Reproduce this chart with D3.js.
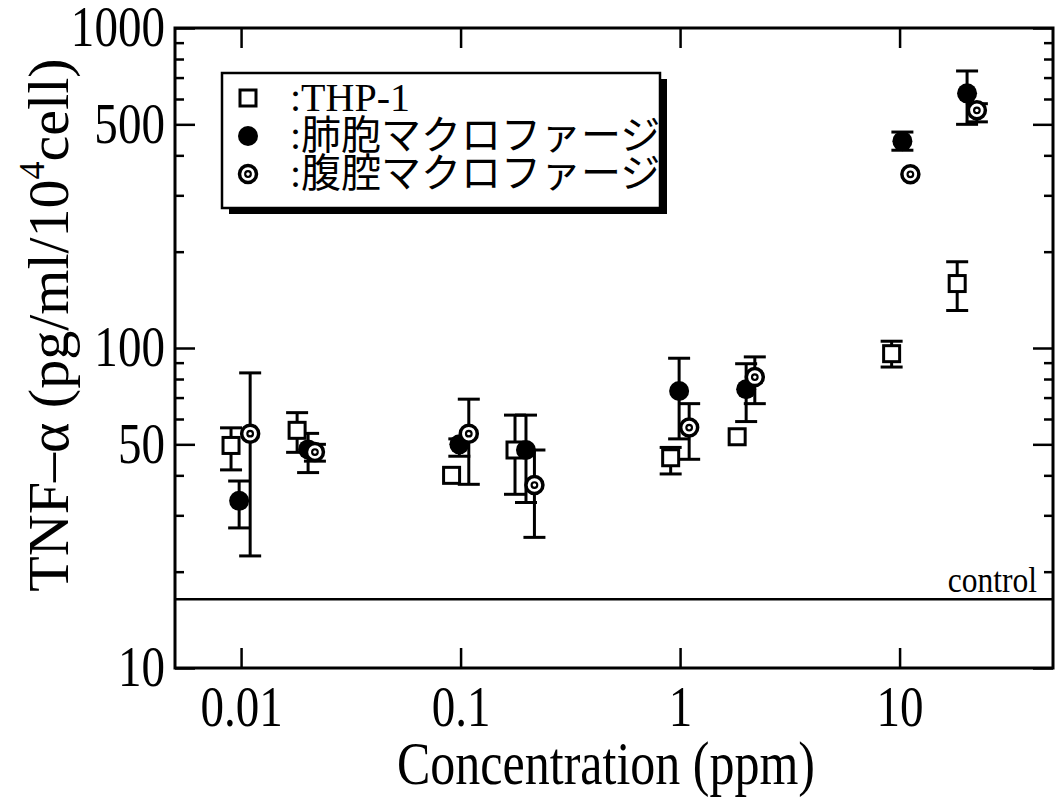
<!DOCTYPE html>
<html>
<head>
<meta charset="utf-8">
<script src="https://cdn.jsdelivr.net/npm/d3@7"></script>
<style>
  body { margin: 0; background: #fff; }
  svg text { font-family: "Liberation Serif", "Times New Roman", "Noto Sans CJK JP", serif; fill: #000; }
</style>
</head>
<body>
<div id="chart"></div>
<script>
// values (concentration in ppm, TNF-alpha in pg/ml/10^4 cell)
var thpConc = [0.009, 0.018, 0.091, 0.177, 0.906, 1.82, 9.2, 18.3];
var thpVal  = [49.6, 55.3, 40, 48, 45.4, 52.8, 96, 159];
var thpLo   = [41.6, 47.2, null, 34.9, 40.4, null, 87.2, 131];
var thpHi   = [56.3, 62.8, null, 61.7, 48.9, null, 105, 186];

var alvConc = [0.0098, 0.0202, 0.0987, 0.1986, 0.99, 2.0, 10.3, 20.3];
var alvVal  = [33.3, 48.2, 50, 48, 73.4, 74.3, 443, 625];
var alvLo   = [27.4, 40.8, 45.9, 32.9, 52, 58.9, 415, 500];
var alvHi   = [38.4, 54.1, 52, 61.7, 92.9, 89.3, 473, 734];

var perConc = [0.011, 0.0217, 0.109, 0.217, 1.10, 2.19, 11.2, 22.5];
var perVal  = [54, 47.3, 54, 37.3, 56.4, 81.1, 349, 553];
var perLo   = [22.4, 44.3, 37.5, 25.6, 44.9, 67, null, 509];
var perHi   = [83.6, 50, 69.2, 48, 67, 93.8, null, 580];

var controlValue = 16.4;

var xTicks = [0.01, 0.1, 1, 10];
var xTickLabels = ["0.01", "0.1", "1", "10"];
var yTicks = [10, 50, 100, 500, 1000];
var yTickLabels = ["10", "50", "100", "500", "1000"];
var yMinor = [20, 30, 40, 60, 70, 80, 90, 200, 300, 400, 600, 700, 800, 900];

var seriesNames = [":THP-1", ":肺胞マクロファージ", ":腹腔マクロファージ"];

var width = 1057,
    height = 810,
    plotLeft = 175, plotRight = 1053, plotTop = 28, plotBottom = 668;

var x = d3.scaleLog().domain([0.005, 50]).range([plotLeft, plotRight]);
var y = d3.scaleLog().domain([10, 1000]).range([plotBottom, plotTop]);

var svg = d3.select("#chart").append("svg")
    .attr("width", width)
    .attr("height", height);

function build(conc, val, lo, hi) {
    return conc.map(function (c, i) {
        return {c: c, v: val[i], lo: lo[i], hi: hi[i]};
    });
}
var series = [
    {name: seriesNames[0], type: "square", data: build(thpConc, thpVal, thpLo, thpHi)},
    {name: seriesNames[1], type: "filled", data: build(alvConc, alvVal, alvLo, alvHi)},
    {name: seriesNames[2], type: "double", data: build(perConc, perVal, perLo, perHi)}
];

// axes: ticks point inward on all four sides
var sxTick = 0.84;
var gx = svg.append("g")
    .attr("transform", "translate(0," + plotBottom + ")")
    .call(d3.axisBottom(x).tickValues(xTicks).tickSize(-20).tickPadding(18)
        .tickFormat(function (d, i) { return xTickLabels[i]; }));
gx.selectAll("text")
    .attr("font-size", 56)
    .attr("dy", "0.71em")
    .attr("transform", "scale(" + sxTick + ",1)");

svg.append("g")
    .attr("transform", "translate(0," + plotTop + ")")
    .call(d3.axisTop(x).tickValues(xTicks).tickSize(-20).tickFormat(""));

var gy = svg.append("g")
    .attr("transform", "translate(" + plotLeft + ",0)")
    .call(d3.axisLeft(y).tickValues(yTicks).tickSize(-20).tickPadding(12)
        .tickFormat(function (d, i) { return yTickLabels[i]; }));
gy.selectAll("text")
    .attr("font-size", 56)
    .attr("transform", "scale(" + sxTick + ",1)");

svg.append("g")
    .attr("transform", "translate(" + plotLeft + ",0)")
    .call(d3.axisLeft(y).tickValues(yMinor).tickSize(-9).tickFormat(""));
svg.append("g")
    .attr("transform", "translate(" + plotRight + ",0)")
    .call(d3.axisRight(y).tickValues(yTicks).tickSize(-20).tickFormat(""));
svg.append("g")
    .attr("transform", "translate(" + plotRight + ",0)")
    .call(d3.axisRight(y).tickValues(yMinor).tickSize(-9).tickFormat(""));

svg.selectAll(".domain").remove();
svg.selectAll(".tick line").attr("stroke", "#000").attr("stroke-width", 2.5);

// frame
svg.append("rect")
    .attr("x", plotLeft).attr("y", plotTop)
    .attr("width", plotRight - plotLeft).attr("height", plotBottom - plotTop)
    .attr("fill", "none").attr("stroke", "#000").attr("stroke-width", 3);

// control level
svg.append("line")
    .attr("x1", plotLeft).attr("x2", plotRight)
    .attr("y1", y(controlValue)).attr("y2", y(controlValue))
    .attr("stroke", "#000").attr("stroke-width", 2.5);
svg.append("text")
    .attr("transform", "translate(" + (plotRight - 16) + "," + (y(controlValue) - 7) + ") scale(0.9,1)")
    .attr("text-anchor", "end")
    .attr("font-size", 35)
    .text("control");

// axis titles
svg.append("text")
    .attr("transform", "translate(606,784) scale(0.82,1)")
    .attr("text-anchor", "middle")
    .attr("font-size", 61)
    .text("Concentration (ppm)");

var yt = svg.append("text")
    .attr("transform", "translate(68,325) rotate(-90)")
    .attr("text-anchor", "middle")
    .attr("font-size", 58);
yt.append("tspan").text("TNF\u2013\u03b1 (pg/ml/10");
yt.append("tspan").attr("font-size", 36).attr("dy", -24).text("4");
yt.append("tspan").attr("dy", 24).text("cell)");

// markers
function drawMarker(g, type) {
    if (type === "square") {
        g.append("rect")
            .attr("x", -8).attr("y", -8).attr("width", 16).attr("height", 16)
            .attr("fill", "#fff").attr("stroke", "#000").attr("stroke-width", 3);
    } else if (type === "filled") {
        g.append("circle").attr("r", 10).attr("fill", "#000");
    } else {
        g.append("circle").attr("r", 8.5)
            .attr("fill", "#fff").attr("stroke", "#000").attr("stroke-width", 3.5);
        g.append("circle").attr("r", 2.8)
            .attr("fill", "#fff").attr("stroke", "#000").attr("stroke-width", 2.2);
    }
}

var capW = 11;
series.forEach(function (s) {
    var withErr = s.data.filter(function (d) { return d.lo != null; });
    var eg = svg.append("g").attr("stroke", "#000").attr("stroke-width", 3);
    eg.selectAll(".stem").data(withErr).enter().append("line")
        .attr("x1", function (d) { return x(d.c); })
        .attr("x2", function (d) { return x(d.c); })
        .attr("y1", function (d) { return y(d.lo); })
        .attr("y2", function (d) { return y(d.hi); });
    eg.selectAll(".capLo").data(withErr).enter().append("line")
        .attr("x1", function (d) { return x(d.c) - capW; })
        .attr("x2", function (d) { return x(d.c) + capW; })
        .attr("y1", function (d) { return y(d.lo); })
        .attr("y2", function (d) { return y(d.lo); });
    eg.selectAll(".capHi").data(withErr).enter().append("line")
        .attr("x1", function (d) { return x(d.c) - capW; })
        .attr("x2", function (d) { return x(d.c) + capW; })
        .attr("y1", function (d) { return y(d.hi); })
        .attr("y2", function (d) { return y(d.hi); });
});
series.forEach(function (s) {
    svg.selectAll(null).data(s.data).enter().append("g")
        .attr("transform", function (d) { return "translate(" + x(d.c) + "," + y(d.v) + ")"; })
        .each(function () { drawMarker(d3.select(this), s.type); });
});

// legend with drop shadow
var lg = svg.append("g").attr("transform", "translate(222,73)");
lg.append("rect").attr("x", 7).attr("y", 6).attr("width", 438).attr("height", 135).attr("fill", "#000");
lg.append("rect").attr("width", 438).attr("height", 135)
    .attr("fill", "#fff").attr("stroke", "#000").attr("stroke-width", 2.5);
series.forEach(function (s, i) {
    var row = lg.append("g").attr("transform", "translate(0," + (25 + i * 38) + ")");
    drawMarker(row.append("g").attr("transform", "translate(26,0)"), s.type);
    row.append("text")
        .attr("x", 68).attr("y", 13)
        .attr("font-size", 40)
        .text(s.name);
});
</script>
</body>
</html>
